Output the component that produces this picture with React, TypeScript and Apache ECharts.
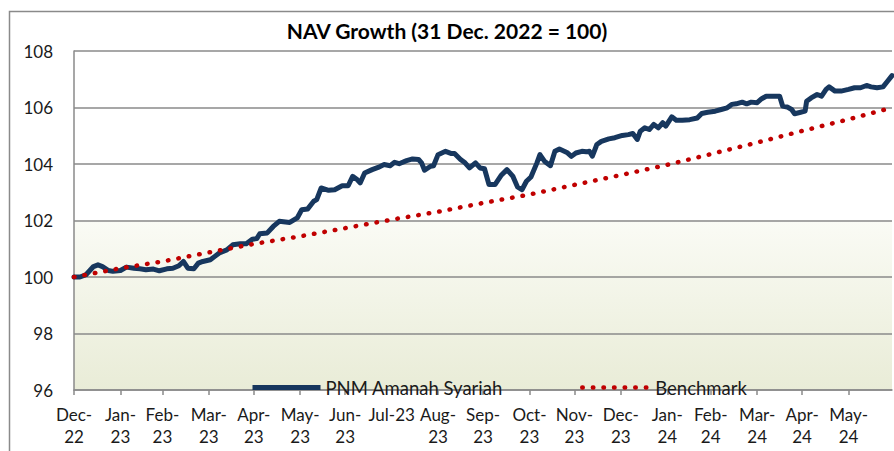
import React, { useEffect, useRef } from "react";
import * as echarts from "echarts";

// Days counted from 31 Dec 2022 (= 100)
const monthTickDays = [0, 31, 59, 90, 120, 151, 181, 212, 243, 273, 304, 334, 365, 396, 425, 456, 486, 517];
const monthTickLabels = [
  "Dec-\n22", "Jan-\n23", "Feb-\n23", "Mar-\n23", "Apr-\n23", "May-\n23", "Jun-\n23", "Jul-23",
  "Aug-\n23", "Sep-\n23", "Oct-\n23", "Nov-\n23", "Dec-\n23", "Jan-\n24", "Feb-\n24", "Mar-\n24",
  "Apr-\n24", "May-\n24",
];

const navDays = [
  0, 4, 8, 13, 16, 19, 23, 26, 31, 35, 40, 44, 48, 53, 57, 62, 66, 70, 73, 76, 80, 83, 86, 91, 94, 97,
  102, 106, 111, 115, 119, 122, 124, 129, 133, 137, 144, 149, 152, 156, 160, 162, 165, 170, 174, 179,
  183, 186, 189, 191, 194, 199, 203, 207, 211, 214, 217, 222, 226, 230, 232, 234, 238, 240, 243, 248,
  252, 254, 258, 261, 264, 268, 271, 274, 277, 281, 285, 289, 293, 296, 299, 302, 305, 309, 311, 314,
  318, 321, 324, 329, 332, 335, 339, 342, 344, 346, 349, 352, 357, 361, 366, 370, 373, 376, 378, 381,
  384, 387, 390, 393, 395, 399, 402, 406, 411, 416, 419, 423, 428, 432, 436, 439, 442, 446, 449, 452,
  456, 459, 462, 467, 471, 473, 476, 479, 481, 485, 488, 489, 492, 496, 499, 502, 504, 508, 512, 517,
  521, 525, 529, 532, 536, 540, 543, 546,
];
const navValues = [
  100.0, 100.0, 100.08, 100.37, 100.43, 100.37, 100.23, 100.2, 100.23, 100.35, 100.31, 100.29, 100.26,
  100.28, 100.22, 100.29, 100.31, 100.4, 100.55, 100.31, 100.29, 100.49, 100.55, 100.61, 100.73, 100.85,
  100.96, 101.14, 101.18, 101.18, 101.34, 101.36, 101.53, 101.56, 101.79, 101.97, 101.93, 102.09, 102.38,
  102.41, 102.68, 102.74, 103.15, 103.07, 103.09, 103.23, 103.23, 103.56, 103.45, 103.33, 103.68, 103.8,
  103.88, 103.98, 103.94, 104.06, 104.01, 104.12, 104.18, 104.16, 104.04, 103.78, 103.92, 103.94, 104.33,
  104.45, 104.37, 104.37, 104.16, 104.04, 103.86, 104.04, 103.86, 103.83, 103.27, 103.27, 103.59, 103.8,
  103.56, 103.19, 103.09, 103.39, 103.54, 104.04, 104.33, 104.1, 103.94, 104.45, 104.53, 104.41, 104.27,
  104.39, 104.45, 104.43, 104.45, 104.28, 104.69, 104.8, 104.89, 104.93, 105.01, 105.04, 105.08, 104.87,
  105.16, 105.28, 105.22, 105.4, 105.28, 105.46, 105.34, 105.67, 105.55, 105.55, 105.57, 105.63, 105.79,
  105.83, 105.87, 105.93, 105.99, 106.11, 106.13, 106.19, 106.13, 106.19, 106.17, 106.31, 106.4, 106.4,
  106.4, 106.05, 106.02, 105.93, 105.78, 105.83, 105.87, 106.22, 106.34, 106.46, 106.4, 106.64, 106.73,
  106.58, 106.58, 106.64, 106.7, 106.7, 106.78, 106.73, 106.7, 106.73, 106.93, 107.13,
];

const benchDays = [0, 31, 59, 90, 120, 151, 181, 212, 243, 273, 304, 334, 365, 396, 425, 456, 486, 517, 543];
const benchValues = [
  100.0, 100.31, 100.55, 100.87, 101.17, 101.44, 101.73, 102.03, 102.31, 102.62, 102.92, 103.26, 103.61,
  103.97, 104.35, 104.76, 105.17, 105.58, 105.95,
];

const yTicks = { min: 96, max: 108, step: 2 };
const xMaxDay = 546;

const FONT = "Lato";
const NAV_COLOR = "#17375e";
const BENCH_COLOR = "#c00000";
const DOT_DASH = [0.5, 10.1];

export default function App() {
  const ref = useRef<HTMLDivElement>(null);
  useEffect(() => {
    if (!ref.current) return;
    const chart = echarts.init(ref.current, undefined, { renderer: "svg" });
    const navData = navDays.map((d, i) => [d, navValues[i]]);
    const benchData = benchDays.map((d, i) => [d, benchValues[i]]);
    const legendBase = {
      top: 378,
      padding: 0,
      itemWidth: 68,
      itemHeight: 14,
      textStyle: { fontFamily: FONT, fontSize: 18.5, color: "#1a1a1a" },
      selectedMode: false,
      itemStyle: { opacity: 0 },
    };
    chart.setOption({
      animation: false,
      backgroundColor: "#ffffff",
      title: {
        text: "NAV Growth (31 Dec. 2022 = 100)",
        left: "center",
        top: 15,
        textStyle: { fontFamily: FONT, fontWeight: "bold", fontSize: 21, color: "#000" },
      },
      graphic: [
        {
          type: "rect",
          left: 7,
          top: 9,
          shape: { x: 0, y: 0, width: 920, height: 480 },
          style: { fill: "none", stroke: "#8a8a8a", lineWidth: 1.5 },
          silent: true,
          z: -1,
        },
      ],
      legend: [
        {
          ...legendBase,
          data: ["PNM Amanah Syariah"],
          left: 250,
          lineStyle: { color: NAV_COLOR, width: 5, cap: "butt" },
        },
        {
          ...legendBase,
          data: ["Benchmark"],
          left: 580,
          lineStyle: { color: BENCH_COLOR, width: 4.5, type: DOT_DASH, cap: "round" },
        },
      ],
      grid: {
        left: 74,
        right: 2,
        top: 51,
        bottom: 61,
        containLabel: false,
        show: true,
        borderWidth: 0,
        backgroundColor: {
          type: "linear",
          x: 0,
          y: 0,
          x2: 0,
          y2: 1,
          colorStops: [
            { offset: 0, color: "#ffffff" },
            { offset: 0.5, color: "#ffffff" },
            { offset: 0.5, color: "#fafbf5" },
            { offset: 1, color: "#e9ecd7" },
          ],
        },
      },
      xAxis: {
        type: "value",
        min: 0,
        max: xMaxDay,
        splitLine: { show: false },
        axisLine: { show: true, lineStyle: { color: "#8a8a8a", width: 1.5 } },
        axisTick: {
          show: true,
          customValues: monthTickDays,
          length: 5,
          lineStyle: { color: "#8a8a8a", width: 1.5 },
        },
        axisLabel: {
          customValues: monthTickDays,
          formatter: (v: number) => {
            const i = monthTickDays.indexOf(Math.round(v));
            return i >= 0 ? monthTickLabels[i] : "";
          },
          margin: 13,
          fontFamily: FONT,
          fontSize: 17,
          lineHeight: 22,
          color: "#1a1a1a",
          verticalAlign: "top",
        },
      },
      yAxis: {
        type: "value",
        min: yTicks.min,
        max: yTicks.max,
        interval: yTicks.step,
        axisLine: { show: true, lineStyle: { color: "#8a8a8a", width: 1.5 } },
        axisTick: { show: false },
        splitLine: { show: true, lineStyle: { color: "#8a8a8a", width: 1.5 } },
        axisLabel: { margin: 21, fontFamily: FONT, fontSize: 17, color: "#1a1a1a" },
      },
      series: [
        {
          name: "PNM Amanah Syariah",
          type: "line",
          data: navData,
          showSymbol: false,
          symbol: "none",
          lineStyle: { color: NAV_COLOR, width: 5, join: "round", cap: "round" },
          itemStyle: { color: NAV_COLOR },
          z: 3,
        },
        {
          name: "Benchmark",
          type: "line",
          data: benchData,
          showSymbol: false,
          symbol: "none",
          lineStyle: { color: BENCH_COLOR, width: 4.5, type: DOT_DASH, cap: "round" },
          itemStyle: { color: BENCH_COLOR },
          z: 4,
        },
      ],
    });
    return () => chart.dispose();
  }, []);
  return (
    <div
      ref={ref}
      style={{ position: "fixed", left: 0, top: 0, width: 894, height: 451, background: "#fff" }}
    />
  );
}
